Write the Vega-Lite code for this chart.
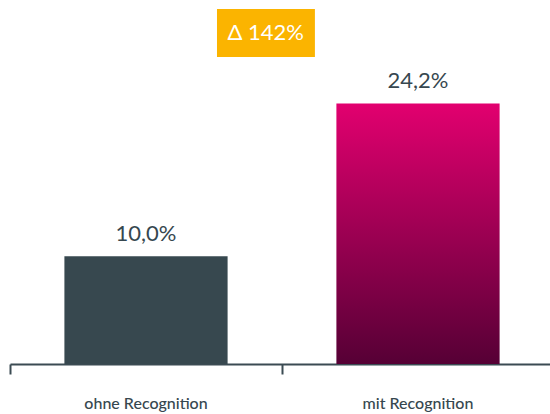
{
  "$schema": "https://vega.github.io/schema/vega-lite/v6.json",
  "autosize": "none",
  "padding": {"left": 10, "top": 0, "right": 0, "bottom": 50},
  "width": 544,
  "height": 364,
  "background": "white",
  "config": {
    "view": {"stroke": null},
    "font": "Lato",
    "axisX": {"title": null, "labelAngle": 0, "domainColor": "#3b4b53", "domainWidth": 2, "tickColor": "#3b4b53", "tickWidth": 2, "tickSize": 10, "bandPosition": 0, "labelPadding": 21, "labelFontSize": 16, "labelColor": "#36474f", "labelFont": "Lato", "labelFontWeight": 500, "grid": false}
  },
  "datasets": {
    "bars": [
      {"group": "ohne Recognition", "value": 10.0, "label": "10,0%"},
      {"group": "mit Recognition", "value": 24.2, "label": "24,2%"}
    ],
    "note": [
      {"from": "ohne Recognition", "to": "mit Recognition", "top": 32.96, "bottom": 28.5, "mid": 30.73, "text": "Δ 142%"}
    ]
  },
  "layer": [
    {
      "data": {"name": "bars"},
      "transform": [{"filter": "datum.group === 'ohne Recognition'"}],
      "mark": {"type": "bar", "width": {"band": 0.6}, "color": "#37484f"},
      "encoding": {
        "x": {"field": "group", "type": "nominal", "sort": null,
          "scale": {"domain": ["ohne Recognition", "mit Recognition"], "paddingInner": 0, "paddingOuter": 0}},
        "y": {"field": "value", "type": "quantitative", "scale": {"domain": [0, 33.8], "nice": false}, "axis": null}
      }
    },
    {
      "data": {"name": "bars"},
      "transform": [{"filter": "datum.group === 'mit Recognition'"}],
      "mark": {"type": "bar", "width": {"band": 0.6},
        "color": {"gradient": "linear", "x1": 0, "y1": 0, "x2": 0, "y2": 1,
          "stops": [{"offset": 0, "color": "#e2006f"}, {"offset": 1, "color": "#560035"}]}},
      "encoding": {
        "x": {"field": "group", "type": "nominal", "sort": null},
        "y": {"field": "value", "type": "quantitative"}
      }
    },
    {
      "data": {"name": "bars"},
      "mark": {"type": "text", "baseline": "bottom", "dy": -10, "fontSize": 22, "color": "#36474f", "font": "Lato"},
      "encoding": {
        "x": {"field": "group", "type": "nominal", "sort": null},
        "y": {"field": "value", "type": "quantitative"},
        "text": {"field": "label"}
      }
    },
    {
      "data": {"name": "note"},
      "mark": {"type": "rect", "color": "#fbb400"},
      "encoding": {
        "x": {"field": "from", "type": "nominal", "bandPosition": 0.761},
        "x2": {"field": "to", "bandPosition": 0.121},
        "y": {"field": "top", "type": "quantitative"},
        "y2": {"field": "bottom"}
      }
    },
    {
      "data": {"name": "note"},
      "mark": {"type": "text", "fontSize": 22, "color": "white", "baseline": "middle", "font": "Lato"},
      "encoding": {
        "x": {"field": "from", "type": "nominal", "bandPosition": 0.94},
        "y": {"field": "mid", "type": "quantitative"},
        "text": {"field": "text"}
      }
    }
  ]
}
